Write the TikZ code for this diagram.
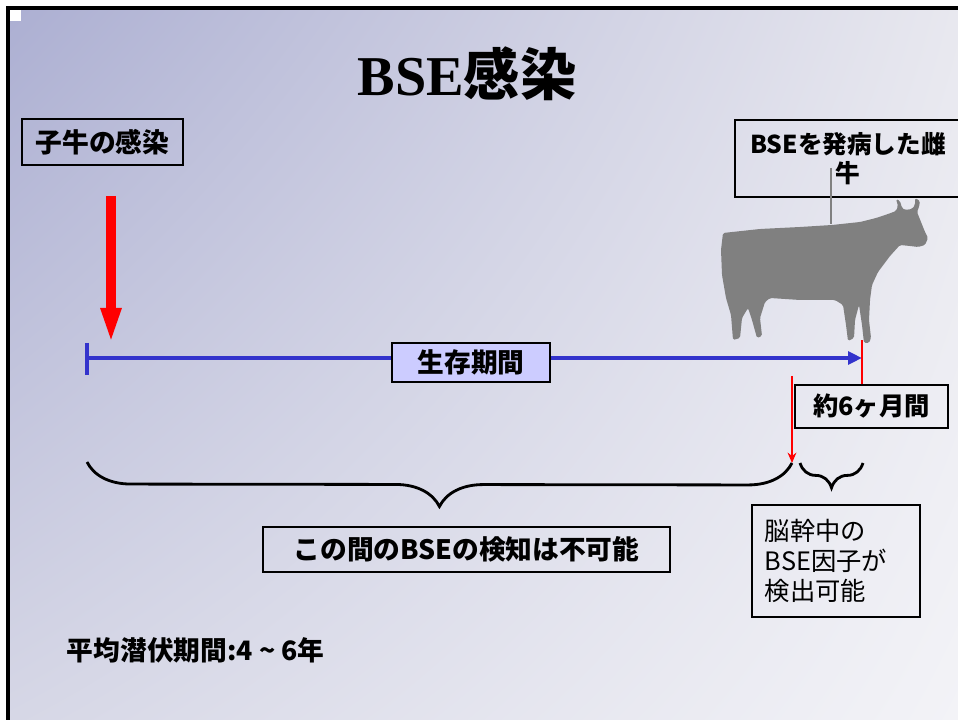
\documentclass[tikz,border=0pt]{standalone}
\usepackage{fontspec}
\setmainfont{Liberation Serif}
\newfontfamily\jp{Noto Sans CJK JP}
\usepackage{xcolor}
\usetikzlibrary{arrows.meta, decorations.pathreplacing, shadings}
\definecolor{lifeblue}{RGB}{51,51,204}
\definecolor{lifefill}{RGB}{204,204,255}
\definecolor{cowgray}{RGB}{128,128,128}
\definecolor{bgul}{RGB}{172,175,210}
\definecolor{bgur}{RGB}{232,232,239}
\definecolor{bgll}{RGB}{214,215,230}
\definecolor{bglr}{RGB}{243,243,247}
\tikzstyle{textbox} = [rectangle, draw=black, line width=1pt, text centered, inner sep=0pt, font=\jp\bfseries\fontsize{19}{22}\selectfont]
\tikzstyle{timeline} = [lifeblue, line width=1mm, -{Triangle[length=3.5mm, width=3.2mm]}]
\tikzstyle{bigarrow} = [red, line width=2.5mm, -{Triangle[length=9mm, width=4.6mm]}]
\tikzstyle{redarrow} = [red, line width=1pt, -{Stealth[length=2.6mm, width=2.2mm]}]
\tikzstyle{bracket} = [line width=2pt, decorate]

\begin{document}
\begin{tikzpicture}[x=0.025cm, y=-0.025cm]
		\useasboundingbox (0,0) rectangle (958,720);
		\shade[upper left=bgul, upper right=bgur, lower left=bgll, lower right=bglr] (8,8) rectangle (958,720);
		\draw[line width=2.2pt] (8,720) -- (8,8) -- (958,8);
		\fill[white] (10,10) rectangle (21,21);
		
		\node (title) at (467,74) {\fontsize{40}{44}\selectfont\bfseries BSE{\jp 感染}};
		\node (calf) [textbox, minimum width=4.025cm, minimum height=1.15cm] at (102.5,142) {子牛の感染};
		\node (onset) [textbox, minimum width=5.65cm, minimum height=1.925cm, align=center, font=\jp\bfseries\fontsize{17.5}{21}\selectfont] at (848,158.5) {BSEを発病した雌\\牛};
		
		% 牛
		\fill[cowgray, rounded corners=0.4mm] (723,233) -- (760,229) -- (800,227) -- (832,225) -- (860,222) -- (876,218) -- (888,214)
		  -- (896,211) -- (898,206) -- (896,199) -- (900,201) -- (902,208) -- (905,210) -- (912,209) -- (915,205) -- (915,198)
		  -- (920,201) -- (919,207) -- (917,212) -- (921,222) -- (925,232) -- (928,238) -- (925,245) -- (918,247) -- (910,246)
		  -- (900,245) -- (890,256) -- (878,272) -- (872,285) -- (870,300) -- (869,320) -- (871,338) -- (869,343) -- (864,343)
		  -- (862,325) -- (859,305) -- (855,320) -- (854,338) -- (848,341) -- (846,325) -- (843,305) -- (835,300) -- (800,300)
		  -- (770,298) -- (765,302) -- (760,318) -- (762,336) -- (757,338) -- (752,320) -- (748,308) -- (742,318) -- (740,338)
		  -- (733,340) -- (731,315) -- (726,298) -- (722,275) -- (721,250) -- cycle;
		\coordinate (tagtop) at (831,168);
		\coordinate (cowback) at (831,224);
		\draw[cowgray, line width=0.8pt] (tagtop) -- (cowback);
		
		\coordinate (birth) at (87,358);
		\coordinate (death) at (862,358);
		\coordinate (infect) at (111,196);
		\coordinate (infected) at (111,344);
		\draw[bigarrow] (infect) -- (infected);
		\draw[timeline] (birth) -- (death);
		\draw[lifeblue, line width=1mm] (87,343) -- (87,375);
		\node (life) [textbox, fill=lifefill, minimum width=3.95cm, minimum height=0.975cm] at (471,362.5) {生存期間};
		
		\node (six) [textbox, minimum width=3.825cm, minimum height=1.075cm, font=\jp\bfseries\fontsize{18}{22}\selectfont] at (871.5,406.5) {約6ヶ月間};
		\draw[red, line width=1.5pt] (six.north -| death) -- (862,340);
		\coordinate (testfrom) at (792,376);
		\coordinate (testat) at (792,463);
		\draw[redarrow] (testfrom) -- (testat);
		
		%括号
		\draw[bracket, decoration={brace, mirror, amplitude=1.1cm}] (87,462) -- (testat);
		\draw[bracket, decoration={brace, mirror, amplitude=0.62cm}] (800,463) -- (863,463);
		
		\node (undetect) [textbox, minimum width=10.175cm, minimum height=1.125cm] at (466.5,549.5) {この間のBSEの検知は不可能};
		\node (detect) [textbox, minimum width=4.2cm, minimum height=2.8cm, text width=3.55cm, inner xsep=0.325cm, align=left, font=\jp\fontsize{18}{21.3}\selectfont] at (836,561) {脳幹中の\\BSE因子が\\検出可能};
		\node (latent) [anchor=west, font=\jp\bfseries\fontsize{19}{22}\selectfont] at (62,650) {平均潜伏期間:4 \textasciitilde{} 6年};
		
	\end{tikzpicture}
\end{document}
